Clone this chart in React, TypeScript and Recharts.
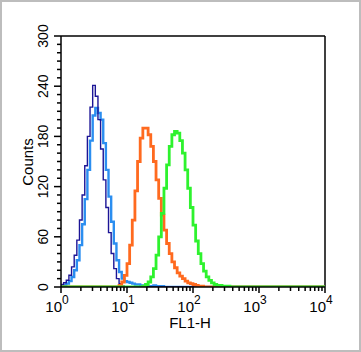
import { LineChart, Line, XAxis, YAxis, ReferenceLine } from 'recharts';

// histogram bins: log10 channel start, 0.04 decade per bin
const binStep = 0.04;

const isotypeStart = 0;
const isotypeCounts = [
  3, 5, 8, 14, 24, 38, 56, 80, 110, 145, 180, 215, 241, 228, 200, 165, 128, 95, 65, 40, 22, 10, 4, 1, 0,
];

const controlStart = 0;
const controlCounts = [
  1, 2, 4, 7, 12, 20, 32, 50, 75, 105, 140, 175, 205, 214, 208, 200, 172, 140, 108, 78, 52, 32, 18, 10,
  7, 6, 5, 4, 3, 3, 2, 2, 2, 1, 1, 2, 1, 1, 1, 0,
];

const orangeStart = 0.84;
const orangeCounts = [
  0, 2, 6, 14, 28, 50, 80, 115, 150, 178, 190, 190, 182, 168, 150, 128, 106, 86, 68, 52, 40, 30, 23, 17,
  13, 10, 7, 5, 4, 3, 2, 1, 1, 0,
];

const greenStart = 1.2;
const greenCounts = [
  0, 1, 3, 6, 12, 22, 38, 60, 88, 118, 146, 168, 182, 186, 184, 175, 160, 140, 118, 95, 74, 55, 40, 28,
  19, 12, 8, 5, 3, 2, 2, 1, 1, 1, 0,
];

const decades = [1, 10, 100, 1000, 10000];
const decadeLabels = ['0', '1', '2', '3', '4'];
const yTicks = [0, 60, 120, 180, 240, 300];

const toPoints = (start: number, counts: number[]) => {
  const pts = counts.map((c, i) => ({ x: Math.pow(10, start + i * binStep), y: c }));
  if (pts[0].x > 1) pts.unshift({ x: 1, y: 0 });
  pts.push({ x: 10000, y: 0 });
  return pts;
};

const isotype = toPoints(isotypeStart, isotypeCounts);
const control = toPoints(controlStart, controlCounts);
const orange = toPoints(orangeStart, orangeCounts);
const green = toPoints(greenStart, greenCounts);

const xTickValues: number[] = [];
decades.forEach((d, i) => {
  xTickValues.push(d);
  if (i < decades.length - 1) for (let k = 2; k < 10; k++) xTickValues.push(d * k);
});
const yTickValues: number[] = [];
for (let v = 0; v <= 300; v += 10) yTickValues.push(v);

const font = 'Liberation Sans, Arial, Helvetica, sans-serif';

const XTick = (props: any) => {
  const { x, y, payload } = props;
  const idx = decades.indexOf(payload.value);
  const major = idx >= 0;
  return (
    <g>
      <line x1={x} x2={x} y1={y} y2={y + (major ? 6 : 4)} stroke="#000" strokeWidth={1.5} />
      {major && (
        <text x={x + 1} y={y + 25} fontSize={15} fontFamily={font} fill="#000" textAnchor="end">
          10
        </text>
      )}
      {major && (
        <text x={x + 1} y={y + 17} fontSize={12} fontFamily={font} fill="#000">
          {decadeLabels[idx]}
        </text>
      )}
    </g>
  );
};

const YTick = (props: any) => {
  const { x, y, payload } = props;
  const major = yTicks.includes(payload.value);
  return (
    <g>
      <line x1={x - (major ? 7 : 4)} x2={x} y1={y} y2={y} stroke="#000" strokeWidth={1.5} />
      {major && (
        <text
          x={x - 13}
          y={y}
          fontSize={14}
          fontFamily={font}
          fill="#000"
          textAnchor="middle"
          transform={`rotate(-90 ${x - 13} ${y})`}
        >
          {payload.value}
        </text>
      )}
    </g>
  );
};

export default function App() {
  return (
    <div
      style={{
        position: 'absolute',
        left: 0,
        top: 0,
        width: 361,
        height: 352,
        boxSizing: 'border-box',
        border: '2px solid #bdbdbd',
        background: '#fff',
      }}
    >
      <div style={{ position: 'absolute', left: -2, top: -2 }}>
        <LineChart width={361} height={352} margin={{ top: 36, right: 36, left: 0, bottom: 0 }}>
          <XAxis
            type="number"
            dataKey="x"
            scale="log"
            domain={[1, 10000]}
            ticks={xTickValues}
            interval={0}
            height={65}
            tickSize={0}
            tickMargin={0}
            tick={<XTick />}
            axisLine={{ stroke: '#000', strokeWidth: 1.5 }}
            allowDataOverflow
          />
          <YAxis
            type="number"
            domain={[0, 300]}
            ticks={yTickValues}
            interval={0}
            width={61}
            tickSize={0}
            tickMargin={0}
            tick={<YTick />}
            axisLine={{ stroke: '#000', strokeWidth: 1.5 }}
            allowDataOverflow
          />
          <ReferenceLine y={300} stroke="#000" strokeWidth={1.5} />
          <ReferenceLine x={10000} stroke="#000" strokeWidth={1.5} />
          <Line data={control} dataKey="y" type="stepAfter" stroke="#2b8ef0" strokeWidth={2.4} dot={false} isAnimationActive={false} />
          <Line data={isotype} dataKey="y" type="stepAfter" stroke="#1c1596" strokeWidth={1.4} dot={false} isAnimationActive={false} />
          <Line data={orange} dataKey="y" type="stepAfter" stroke="#ff6a1f" strokeWidth={2.8} dot={false} isAnimationActive={false} />
          <Line data={green} dataKey="y" type="stepAfter" stroke="#2ef22e" strokeWidth={2.8} dot={false} isAnimationActive={false} />
        </LineChart>
        <div
          style={{
            position: 'absolute',
            left: 27,
            top: 162,
            transform: 'translate(-50%, -50%) rotate(-90deg)',
            fontFamily: font,
            fontSize: 15,
            whiteSpace: 'nowrap',
          }}
        >
          Counts
        </div>
        <div
          style={{
            position: 'absolute',
            left: 190,
            top: 322,
            transform: 'translate(-50%, -50%)',
            fontFamily: font,
            fontSize: 15,
            whiteSpace: 'nowrap',
          }}
        >
          FL1-H
        </div>
      </div>
    </div>
  );
}
